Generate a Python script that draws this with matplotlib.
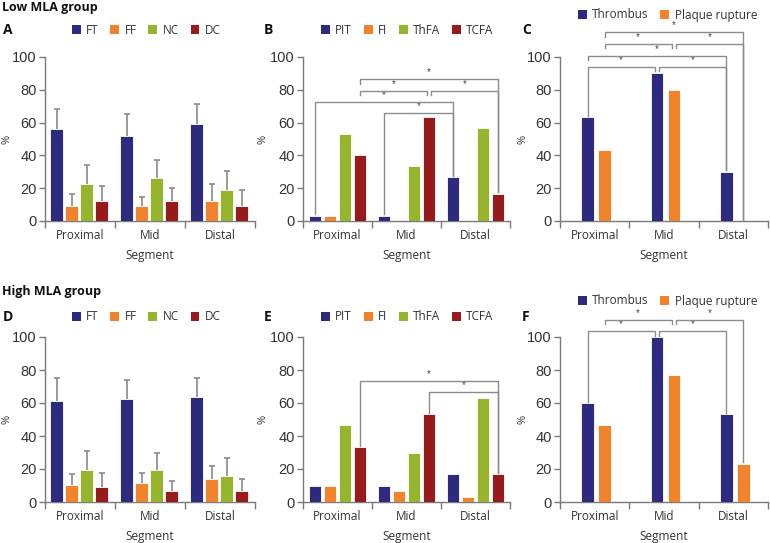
import matplotlib
matplotlib.use("Agg")
import matplotlib.pyplot as plt
import numpy as np
from matplotlib.patches import Patch

# ---------------- data ----------------
segments = ["Proximal", "Mid", "Distal"]

comp_labels = ["FT", "FF", "NC", "DC"]
low_comp = {
    "FT": [55.8, 52.1, 59.1],
    "FF": [9.2, 9.0, 12.2],
    "NC": [22.8, 26.1, 18.9],
    "DC": [12.4, 12.4, 9.3],
}
low_comp_err = {
    "FT": [68.2, 65.0, 71.3],
    "FF": [16.7, 14.7, 22.4],
    "NC": [34.2, 37.5, 30.7],
    "DC": [21.2, 20.2, 18.9],
}
high_comp = {
    "FT": [61.5, 62.5, 63.5],
    "FF": [10.3, 11.4, 13.8],
    "NC": [19.1, 19.1, 15.6],
    "DC": [9.1, 6.7, 6.7],
}
high_comp_err = {
    "FT": [75.0, 74.2, 75.3],
    "FF": [16.8, 17.8, 21.7],
    "NC": [31.2, 29.4, 26.6],
    "DC": [17.4, 12.8, 14.2],
}

type_labels = ["PIT", "FI", "ThFA", "TCFA"]
low_type = {
    "PIT": [3.3, 3.3, 26.7],
    "FI": [3.3, 0.0, 0.0],
    "ThFA": [53.3, 33.3, 56.7],
    "TCFA": [40.0, 63.3, 16.7],
}
high_type = {
    "PIT": [10.0, 10.0, 16.7],
    "FI": [10.0, 6.7, 3.3],
    "ThFA": [46.7, 30.0, 63.3],
    "TCFA": [33.3, 53.3, 16.7],
}

event_labels = ["Thrombus", "Plaque rupture"]
low_event = {
    "Thrombus": [63.3, 90.0, 30.0],
    "Plaque rupture": [43.3, 80.0, 0.0],
}
high_event = {
    "Thrombus": [60.0, 100.0, 53.3],
    "Plaque rupture": [46.7, 76.7, 23.3],
}

colors4 = ["#2e2a80", "#f0832b", "#97b52c", "#981b1b"]
colors2 = ["#2e2a80", "#f0832b"]

# ---------------- layout ----------------
W, H = 770, 543
fig = plt.figure(figsize=(W / 100, H / 100), dpi=100)

LAB_FONT = ["Open Sans", "DejaVu Sans"]
NUM_FONT = ["Liberation Sans", "DejaVu Sans"]
SPINE = "#7a7a7a"
TXT = "#333333"
BR = "#8c8c8c"


def make_ax(x0, x1, ytop, ybot):
    return fig.add_axes([x0 / W, (H - ybot) / H, (x1 - x0) / W, (ybot - ytop) / H])


def style_ax(ax, x0, x1, ylab_right):
    ax.set_xlim(0, 3)
    ax.set_ylim(0, 100)
    for s in ["top", "right"]:
        ax.spines[s].set_visible(False)
    for s in ["left", "bottom"]:
        ax.spines[s].set_color(SPINE)
        ax.spines[s].set_linewidth(1.0)
    ax.set_yticks([0, 20, 40, 60, 80, 100])
    ax.tick_params(axis="y", colors=SPINE, labelcolor=TXT, length=4, width=1.0, pad=2)
    for t in ax.get_yticklabels():
        t.set_family(NUM_FONT)
        t.set_fontsize(10.5)
    ax.set_xticks([0.5, 1.5, 2.5])
    ax.set_xticklabels(segments, family=LAB_FONT, fontsize=8.5, color=TXT)
    ax.tick_params(axis="x", length=0, pad=6)
    ax.set_xticks([0, 1, 2, 3], minor=True)
    ax.tick_params(axis="x", which="minor", length=5, width=1.0, colors=SPINE)
    ax.set_xlabel("Segment", family=LAB_FONT, fontsize=8.5, color=TXT, labelpad=5)
    ax.set_ylabel("%", family=LAB_FONT, fontsize=8, color=TXT)
    ax.yaxis.set_label_coords((ylab_right - x0) / (x1 - x0), 0.5)


def bar_x(g, s, n, spacing, center):
    return g + center + (s - (n - 1) / 2) * spacing


def draw_bars(ax, labels, data, colors, spacing, width, center, err=None):
    n = len(labels)
    for s, lab in enumerate(labels):
        xs = np.array([bar_x(g, s, n, spacing, center) for g in range(3)])
        vals = data[lab]
        ax.bar(xs, vals, width=width, color=colors[s], edgecolor="white",
               linewidth=0.6, zorder=3, label=lab)
        if err is not None:
            tops = err[lab]
            ax.vlines(xs, vals, tops, color="#8a8a8a", lw=1.2, zorder=2)
            ax.hlines(tops, xs - 0.045, xs + 0.045, color="#8a8a8a", lw=1.2, zorder=2)


def bracket(ax, data, labels, n, spacing, center, spec):
    (g1, s1, dx1, end1), (g2, s2, dx2, end2), level = spec
    x1 = bar_x(g1, s1, n, spacing, center) + dx1
    x2 = bar_x(g2, s2, n, spacing, center) + dx2
    y1 = level - 2.6 if end1 == "s" else data[labels[s1]][g1] + 0.8
    y2 = level - 2.6 if end2 == "s" else data[labels[s2]][g2] + 0.8
    ax.plot([x1, x1, x2, x2], [y1, level, level, y2], color=BR, lw=1.0,
            clip_on=False, zorder=4, solid_joinstyle="miter")
    ax.text((x1 + x2) / 2, level + 1.2, "*", ha="center", va="bottom",
            fontsize=7, color="#444444", family=NUM_FONT, clip_on=False)


def legend(ax, labels, colors, x_px, y_px):
    handles = [Patch(facecolor=c, edgecolor="none") for c in colors]
    fig.legend(handles, labels, loc="center left",
               bbox_to_anchor=(x_px / W, 1 - y_px / H), ncol=len(labels),
               frameon=False, borderpad=0, borderaxespad=0,
               handlelength=0.75, handleheight=0.75, handletextpad=0.45,
               columnspacing=1.0, prop={"family": LAB_FONT, "size": 8.5},
               labelcolor=TXT)


rows = [
    dict(ytop=57, ybot=221, title="Low MLA group", ty=7, letters="ABC", ly=30,
         comp=low_comp, comp_err=low_comp_err, typ=low_type, ev=low_event,
         leg4_y=30, leg2_y=15),
    dict(ytop=337, ybot=502, title="High MLA group", ty=292, letters="DEF", ly=317,
         comp=high_comp, comp_err=high_comp_err, typ=high_type, ev=high_event,
         leg4_y=317, leg2_y=301),
]

brackets_type = {
    0: [
        ((0, 3, 0.0, "s"), (2, 3, 0.0, "l"), 86.4),
        ((0, 3, 0.0, "s"), (1, 3, -0.03, "s"), 79.4),
        ((1, 3, 0.03, "s"), (2, 3, 0.0, "l"), 79.4),
        ((0, 0, 0.0, "l"), (2, 0, 0.0, "l"), 72.7),
        ((1, 0, 0.0, "l"), (2, 0, 0.0, "l"), 66.0),
    ],
    1: [
        ((0, 3, 0.0, "l"), (2, 3, 0.0, "l"), 73.2),
        ((1, 3, 0.0, "l"), (2, 3, 0.0, "l"), 66.5),
    ],
}
brackets_event = {
    0: [
        ((0, 1, 0.0, "s"), (2, 1, 0.0, "l"), 115.0),
        ((0, 1, 0.0, "s"), (1, 1, -0.03, "s"), 108.0),
        ((1, 1, 0.03, "s"), (2, 1, 0.0, "l"), 108.0),
        ((0, 0, 0.0, "s"), (2, 0, 0.0, "l"), 100.8),
        ((0, 0, 0.0, "l"), (1, 0, -0.03, "s"), 94.0),
        ((1, 0, 0.03, "s"), (2, 0, 0.0, "l"), 94.0),
    ],
    1: [
        ((0, 1, 0.0, "s"), (1, 1, -0.03, "s"), 110.5),
        ((1, 1, 0.03, "s"), (2, 1, 0.0, "l"), 110.5),
        ((0, 0, 0.0, "l"), (1, 0, -0.03, "s"), 103.4),
        ((1, 0, 0.03, "s"), (2, 0, 0.0, "l"), 103.4),
    ],
}

for r, row in enumerate(rows):
    fig.text(2 / W, 1 - row["ty"] / H, row["title"], ha="left", va="center",
             fontsize=9, fontweight="bold", family=LAB_FONT, color="#111111")

    # composition panel
    axA = make_ax(45, 255, row["ytop"], row["ybot"])
    style_ax(axA, 45, 255, 13)
    draw_bars(axA, comp_labels, row["comp"], colors4, 0.214, 0.185, 0.49,
              err=row["comp_err"])
    legend(axA, comp_labels, colors4, 72, row["leg4_y"])

    # plaque type panel
    axB = make_ax(303, 510, row["ytop"], row["ybot"])
    style_ax(axB, 303, 510, 269)
    draw_bars(axB, type_labels, row["typ"], colors4, 0.217, 0.184, 0.5)
    for spec in brackets_type[r]:
        bracket(axB, row["typ"], type_labels, 4, 0.217, 0.5, spec)
    legend(axB, type_labels, colors4, 321, row["leg4_y"])

    # event panel
    axC = make_ax(560, 768, row["ytop"], row["ybot"])
    style_ax(axC, 560, 768, 528)
    draw_bars(axC, event_labels, row["ev"], colors2, 0.246, 0.183, 0.52)
    for spec in brackets_event[r]:
        bracket(axC, row["ev"], event_labels, 2, 0.246, 0.52, spec)
    legend(axC, event_labels, colors2, 578, row["leg2_y"])

    for letter, xpx in zip(row["letters"], [3, 264, 522]):
        fig.text(xpx / W, 1 - row["ly"] / H, letter, ha="left", va="center",
                 fontsize=10, fontweight="bold", family=LAB_FONT, color="#111111")

fig.savefig("out.png", dpi=100)
